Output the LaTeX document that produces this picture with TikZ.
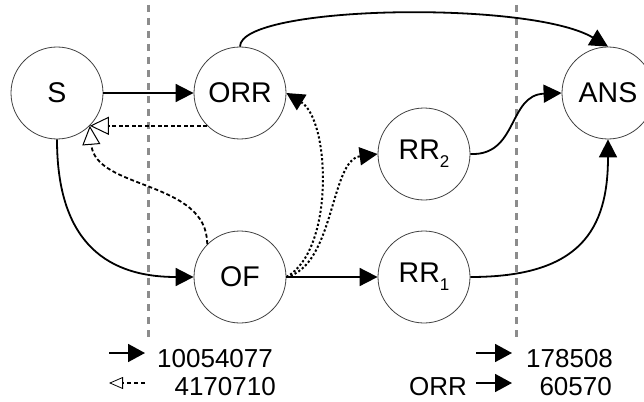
\documentclass[tikz,border=0pt]{standalone}
\usepackage{fontspec}
\setmainfont{Liberation Sans}
\usetikzlibrary{arrows.meta}
\newcommand{\subidx}[1]{\raisebox{-8pt}{\fontsize{17}{17}\selectfont #1}}
\tikzset{
  state/.style={circle, draw=black!75, line width=0.8pt, minimum size=92pt, inner sep=0pt, font=\fontsize{28.5}{30}\selectfont},
  solidedge/.style={line width=1.8pt, -{Triangle[length=18pt,width=18pt]}},
  dashedge/.style={line width=1.8pt, dash pattern=on 4pt off 2.5pt, -{Triangle[open,length=19pt,width=18pt,line width=1pt]}},
  dotedge/.style={line width=2pt, dash pattern=on 2.2pt off 2.2pt, -{Triangle[length=18pt,width=18pt]}},
  divider/.style={draw=black!45, line width=3pt, dash pattern=on 7pt off 6pt},
  legtext/.style={font=\fontsize{26}{28}\selectfont, inner sep=0pt},
}
\begin{document}
\begin{tikzpicture}[x=1pt,y=-1pt]
\useasboundingbox (0,0) rectangle (644,401);
% dividers
\coordinate (d1t) at (148,5);
\coordinate (d1b) at (148,340);
\coordinate (d2t) at (516,5);
\coordinate (d2b) at (516,340);
\draw[divider] (d1t) -- (d1b);
\draw[divider] (d2t) -- (d2b);
% nodes
\node[state] (S) at (57,93) {S};
\node[state] (ORR) at (240,93) {ORR};
\node[state] (ANS) at (608,93) {ANS};
\node[state] (RR2) at (424,154) {RR\subidx{2}};
\node[state] (OF) at (240,277) {OF};
\node[state] (RR1) at (424,277) {RR\subidx{1}};
% edges
\draw[solidedge] (S.east) -- (ORR.west);
\draw[solidedge] (OF.east) -- (RR1.west);
\draw[solidedge] (S.south) .. controls (57,235) and (100,277) .. (OF.west);
\draw[solidedge] (ORR.north) .. controls (240,5) and (530,0) .. (ANS.north);
\draw[solidedge] (RR2.east) .. controls (518,156) and (508,95) .. (ANS.west);
\draw[solidedge] (RR1.east) .. controls (580,277) and (608,230) .. (ANS.south);
\draw[dashedge] (ORR.south west) -- (S.south east);
\draw[dashedge] (OF.north west) .. controls (207.5,180) and (95,190) .. (S.south east);
\draw[dotedge] (OF.east) .. controls (335,250) and (330,120) .. (ORR.east);
\draw[dotedge] (OF.east) .. controls (335,265) and (330,160) .. (RR2.west);
% legend
\coordinate (la1) at (109,353);
\coordinate (lb1) at (145,353);
\coordinate (la2) at (145,383);
\coordinate (lb2) at (109,383);
\coordinate (ra1) at (476,353);
\coordinate (rb1) at (512,353);
\coordinate (ra2) at (476,383);
\coordinate (rb2) at (512,383);
\draw[line width=1.8pt, -{Triangle[length=17pt,width=18pt]}] (la1) -- (lb1);
\draw[line width=1.2pt, dash pattern=on 4pt off 3pt, -{Triangle[open,length=14pt,width=12pt,line width=0.8pt]}] (la2) -- (lb2);
\draw[line width=1.8pt, -{Triangle[length=17pt,width=18pt]}] (ra1) -- (rb1);
\draw[line width=1.8pt, -{Triangle[length=17pt,width=18pt]}] (ra2) -- (rb2);
\node[legtext, anchor=base west] (t1) at (157,367) {10054077};
\node[legtext, anchor=base east] (t2) at (276,395) {4170710};
\node[legtext, anchor=base west] (t3) at (526,367) {178508};
\node[legtext, anchor=base east] (t4) at (612,395) {60570};
\node[legtext, anchor=base east] (t5) at (467,395) {ORR};
\end{tikzpicture}
\end{document}
